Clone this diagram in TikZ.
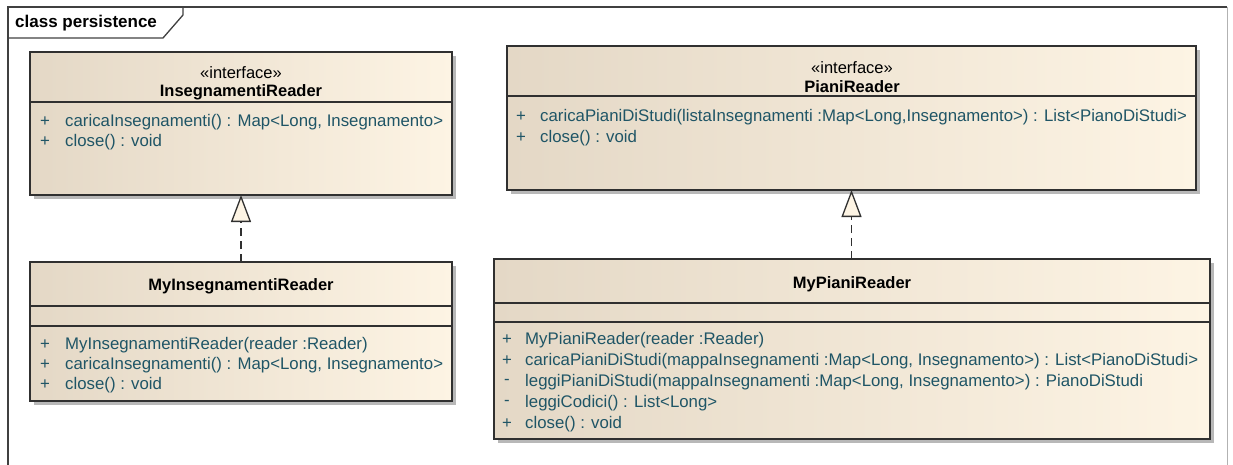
\documentclass[tikz,border=0pt]{standalone}
\usepackage{fontspec}
\setmainfont{Liberation Sans}
\usetikzlibrary{arrows.meta,shadows}
\definecolor{umlborder}{HTML}{303030}
\definecolor{fillL}{HTML}{E4D8C6}
\definecolor{fillR}{HTML}{FDF4E4}
\definecolor{optext}{HTML}{1F5566}
\definecolor{shadowc}{HTML}{B8B8B8}
\definecolor{framec}{HTML}{404040}
\begin{document}
\begin{tikzpicture}[x=1pt,y=-1pt,
  classbox/.style={draw=umlborder, line width=1.3pt, left color=fillL, right color=fillR,
    anchor=north west, inner sep=0pt, outer sep=0pt,
    drop shadow={shadow xshift=4pt, shadow yshift=-4pt, fill=shadowc, opacity=1}},
  divider/.style={draw=umlborder, line width=1.1pt},
  stereo/.style={inner sep=0pt, font=\fontsize{16.5}{19}\selectfont},
  cname/.style={inner sep=0pt, font=\fontsize{16.5}{19}\selectfont\bfseries},
  opsign/.style={inner sep=0pt, text=optext, font=\fontsize{16.8}{19}\selectfont},
  optxt/.style={anchor=west, inner sep=0pt, text=optext, font=\fontsize{16.8}{19}\selectfont},
  realize/.style={draw=umlborder, line width=1.3pt, dash pattern=on 8pt off 5pt,
    -{Triangle[open, width=20pt, length=27pt, fill=fillR, line width=1.3pt, sep=0pt]}},
  framebox/.style={draw=framec, line width=1.3pt}
]
\useasboundingbox (0,0) rectangle (1233,465);
% frame
\draw[framebox] (8,470) -- (8,7) -- (1227,7);
\draw[draw=gray!60, line width=1pt] (1227,7) -- (1227,470);
\draw[framebox] (8,38) -- (163,38) -- (183,15) -- (183,7);
\node[inner sep=0pt, anchor=west, font=\fontsize{17}{19}\selectfont\bfseries] (title) at (15,23) {class persistence};

% InsegnamentiReader
\node[classbox, minimum width=422, minimum height=143] (ir) at (30,52) {};
\draw[divider] ([yshift=-50pt]ir.north west) -- ([yshift=-50pt]ir.north east);
\node[stereo] (ir-st) at (241,73) {«interface»};
\node[cname] (ir-n) at (241,92) {InsegnamentiReader};
\node[opsign] (ir-s1) at (45,122) {+};
\node[optxt] (ir-o1) at (65,122) {caricaInsegnamenti() : Map<Long, Insegnamento>};
\node[opsign] (ir-s2) at (45,142) {+};
\node[optxt] (ir-o2) at (65,142) {close() : void};

% PianiReader
\node[classbox, minimum width=689, minimum height=144] (pr) at (507,46) {};
\draw[divider] ([yshift=-50pt]pr.north west) -- ([yshift=-50pt]pr.north east);
\node[stereo] (pr-st) at (852,68) {«interface»};
\node[cname] (pr-n) at (852,87) {PianiReader};
\node[opsign] (pr-s1) at (521,117) {+};
\node[optxt] (pr-o1) at (540,117) {caricaPianiDiStudi(listaInsegnamenti :Map<Long,Insegnamento>) : List<PianoDiStudi>};
\node[opsign] (pr-s2) at (521,138) {+};
\node[optxt] (pr-o2) at (540,138) {close() : void};

% MyInsegnamentiReader
\node[classbox, minimum width=422, minimum height=139] (mir) at (30,262) {};
\draw[divider] ([yshift=-44pt]mir.north west) -- ([yshift=-44pt]mir.north east);
\draw[divider] ([yshift=-64pt]mir.north west) -- ([yshift=-64pt]mir.north east);
\node[cname] (mir-n) at (241,286) {MyInsegnamentiReader};
\node[opsign] (mir-s1) at (45,345) {+};
\node[optxt] (mir-o1) at (65,345) {MyInsegnamentiReader(reader :Reader)};
\node[opsign] (mir-s2) at (45,365) {+};
\node[optxt] (mir-o2) at (65,365) {caricaInsegnamenti() : Map<Long, Insegnamento>};
\node[opsign] (mir-s3) at (45,385) {+};
\node[optxt] (mir-o3) at (65,385) {close() : void};

% MyPianiReader
\node[classbox, minimum width=716, minimum height=180] (mpr) at (494,259) {};
\draw[divider] ([yshift=-44pt]mpr.north west) -- ([yshift=-44pt]mpr.north east);
\draw[divider] ([yshift=-63pt]mpr.north west) -- ([yshift=-63pt]mpr.north east);
\node[cname] (mpr-n) at (852,284) {MyPianiReader};
\node[opsign] (mpr-s1) at (507,340) {+};
\node[optxt] (mpr-o1) at (525,340) {MyPianiReader(reader :Reader)};
\node[opsign] (mpr-s2) at (507,361) {+};
\node[optxt] (mpr-o2) at (525,361) {caricaPianiDiStudi(mappaInsegnamenti :Map<Long, Insegnamento>) : List<PianoDiStudi>};
\node[opsign] (mpr-s3) at (507,382) {-};
\node[optxt] (mpr-o3) at (525,382) {leggiPianiDiStudi(mappaInsegnamenti :Map<Long, Insegnamento>) : PianoDiStudi};
\node[opsign] (mpr-s4) at (507,403) {-};
\node[optxt] (mpr-o4) at (525,403) {leggiCodici() : List<Long>};
\node[opsign] (mpr-s5) at (507,424) {+};
\node[optxt] (mpr-o5) at (525,424) {close() : void};

% realizations
\draw[realize] (mir.north) -- (ir.south);
\draw[realize] (mpr.north -| pr.south) -- (pr.south);
\end{tikzpicture}
\end{document}
